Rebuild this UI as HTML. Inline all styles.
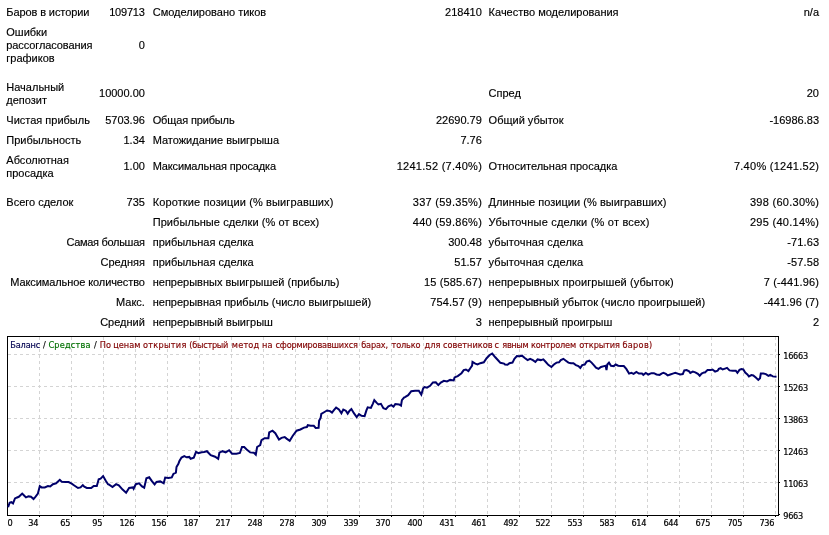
<!DOCTYPE html>
<html><head><meta charset="utf-8"><title>Strategy Tester Report</title>
<style>
html,body{margin:0;padding:0;background:#fff;}
body{width:829px;height:535px;position:relative;overflow:hidden;font-family:"Liberation Sans",Tahoma,Arial,sans-serif;font-size:11px;color:#000;}
.t{position:absolute;white-space:nowrap;line-height:13px;height:13px;-webkit-text-stroke:0.15px #000;}
.r{text-align:right;}
svg{position:absolute;left:0;top:0;}
svg text{font-family:"DejaVu Sans Condensed","Liberation Sans",Tahoma,Arial,sans-serif;font-size:9.1px;fill:#000;letter-spacing:-0.3px;stroke:#000;stroke-width:0.2px;}
svg .ttl text{letter-spacing:0;}
</style></head><body>
<div class="t" style="left:6.3px;top:6px;letter-spacing:-0.1px">Баров в истории</div>
<div class="t r" style="right:684.3px;top:6px;letter-spacing:-0.2px">109713</div>
<div class="t" style="left:152.7px;top:6px">Смоделировано тиков</div>
<div class="t r" style="right:347.2px;top:6px">218410</div>
<div class="t" style="left:488.6px;top:6px">Качество моделирования</div>
<div class="t r" style="right:10px;top:6px">n/a</div>
<div class="t" style="left:6.3px;top:26px">Ошибки</div>
<div class="t" style="left:6.3px;top:39px;letter-spacing:-0.1px">рассогласования</div>
<div class="t r" style="right:684.1px;top:39px">0</div>
<div class="t" style="left:6.3px;top:52px">графиков</div>
<div class="t" style="left:6.3px;top:81px">Начальный</div>
<div class="t" style="left:6.3px;top:94px">депозит</div>
<div class="t r" style="right:684.1px;top:87px">10000.00</div>
<div class="t" style="left:488.6px;top:87px">Спред</div>
<div class="t r" style="right:10px;top:87px">20</div>
<div class="t" style="left:6.3px;top:114px">Чистая прибыль</div>
<div class="t r" style="right:684.1px;top:114px">5703.96</div>
<div class="t" style="left:152.7px;top:114px;letter-spacing:-0.14px">Общая прибыль</div>
<div class="t r" style="right:347.2px;top:114px">22690.79</div>
<div class="t" style="left:488.6px;top:114px">Общий убыток</div>
<div class="t r" style="right:10px;top:114px">-16986.83</div>
<div class="t" style="left:6.3px;top:134px">Прибыльность</div>
<div class="t r" style="right:684.1px;top:134px">1.34</div>
<div class="t" style="left:152.7px;top:134px">Матожидание выигрыша</div>
<div class="t r" style="right:347.2px;top:134px">7.76</div>
<div class="t" style="left:6.3px;top:154px">Абсолютная</div>
<div class="t" style="left:6.3px;top:167px">просадка</div>
<div class="t r" style="right:684.1px;top:160px">1.00</div>
<div class="t" style="left:152.7px;top:160px;letter-spacing:-0.15px">Максимальная просадка</div>
<div class="t r" style="right:346.93px;top:160px;letter-spacing:0.27px">1241.52 (7.40%)</div>
<div class="t" style="left:488.6px;top:160px">Относительная просадка</div>
<div class="t r" style="right:9.73px;top:160px;letter-spacing:0.27px">7.40% (1241.52)</div>
<div class="t" style="left:6.3px;top:196px">Всего сделок</div>
<div class="t r" style="right:684.1px;top:196px">735</div>
<div class="t" style="left:152.7px;top:196px;letter-spacing:0.12px">Короткие позиции (% выигравших)</div>
<div class="t r" style="right:346.93px;top:196px;letter-spacing:0.27px">337 (59.35%)</div>
<div class="t" style="left:488.6px;top:196px;letter-spacing:0.04px">Длинные позиции (% выигравших)</div>
<div class="t r" style="right:9.73px;top:196px;letter-spacing:0.27px">398 (60.30%)</div>
<div class="t" style="left:152.7px;top:216px;letter-spacing:0.07px">Прибыльные сделки (% от всех)</div>
<div class="t r" style="right:346.93px;top:216px;letter-spacing:0.27px">440 (59.86%)</div>
<div class="t" style="left:488.6px;top:216px;letter-spacing:0.2px">Убыточные сделки (% от всех)</div>
<div class="t r" style="right:9.73px;top:216px;letter-spacing:0.27px">295 (40.14%)</div>
<div class="t r" style="right:684.4px;top:236px;letter-spacing:-0.3px">Самая большая</div>
<div class="t" style="left:152.7px;top:236px">прибыльная сделка</div>
<div class="t r" style="right:347.2px;top:236px">300.48</div>
<div class="t" style="left:488.6px;top:236px;letter-spacing:0.12px">убыточная сделка</div>
<div class="t r" style="right:9.9px;top:236px;letter-spacing:0.1px">-71.63</div>
<div class="t r" style="right:684.1px;top:256px">Средняя</div>
<div class="t" style="left:152.7px;top:256px">прибыльная сделка</div>
<div class="t r" style="right:347.2px;top:256px">51.57</div>
<div class="t" style="left:488.6px;top:256px;letter-spacing:0.12px">убыточная сделка</div>
<div class="t r" style="right:9.9px;top:256px;letter-spacing:0.1px">-57.58</div>
<div class="t r" style="right:684.2px;top:276px;letter-spacing:-0.1px">Максимальное количество</div>
<div class="t" style="left:152.7px;top:276px">непрерывных выигрышей (прибыль)</div>
<div class="t r" style="right:347.05px;top:276px;letter-spacing:0.15px">15 (585.67)</div>
<div class="t" style="left:488.6px;top:276px;letter-spacing:0.09px">непрерывных проигрышей (убыток)</div>
<div class="t r" style="right:9.85px;top:276px;letter-spacing:0.15px">7 (-441.96)</div>
<div class="t r" style="right:684.1px;top:296px">Макс.</div>
<div class="t" style="left:152.7px;top:296px">непрерывная прибыль (число выигрышей)</div>
<div class="t r" style="right:347.05px;top:296px;letter-spacing:0.15px">754.57 (9)</div>
<div class="t" style="left:488.6px;top:296px;letter-spacing:0.015px">непрерывный убыток (число проигрышей)</div>
<div class="t r" style="right:9.85px;top:296px;letter-spacing:0.15px">-441.96 (7)</div>
<div class="t r" style="right:684.1px;top:316px">Средний</div>
<div class="t" style="left:152.7px;top:316px">непрерывный выигрыш</div>
<div class="t r" style="right:347.2px;top:316px">3</div>
<div class="t" style="left:488.6px;top:316px;letter-spacing:-0.05px">непрерывный проигрыш</div>
<div class="t r" style="right:10px;top:316px">2</div>
<svg width="829" height="535" viewBox="0 0 829 535">
<g stroke="#d4d4d4" stroke-width="1" stroke-dasharray="3,3" shape-rendering="crispEdges" fill="none"><line x1="39.5" y1="337" x2="39.5" y2="515"/><line x1="71.5" y1="337" x2="71.5" y2="515"/><line x1="103.5" y1="337" x2="103.5" y2="515"/><line x1="135.5" y1="337" x2="135.5" y2="515"/><line x1="167.5" y1="337" x2="167.5" y2="515"/><line x1="199.5" y1="337" x2="199.5" y2="515"/><line x1="231.5" y1="337" x2="231.5" y2="515"/><line x1="263.5" y1="337" x2="263.5" y2="515"/><line x1="295.5" y1="337" x2="295.5" y2="515"/><line x1="327.5" y1="337" x2="327.5" y2="515"/><line x1="359.5" y1="337" x2="359.5" y2="515"/><line x1="391.5" y1="337" x2="391.5" y2="515"/><line x1="423.5" y1="337" x2="423.5" y2="515"/><line x1="455.5" y1="337" x2="455.5" y2="515"/><line x1="487.5" y1="337" x2="487.5" y2="515"/><line x1="519.5" y1="337" x2="519.5" y2="515"/><line x1="551.5" y1="337" x2="551.5" y2="515"/><line x1="583.5" y1="337" x2="583.5" y2="515"/><line x1="615.5" y1="337" x2="615.5" y2="515"/><line x1="647.5" y1="337" x2="647.5" y2="515"/><line x1="679.5" y1="337" x2="679.5" y2="515"/><line x1="711.5" y1="337" x2="711.5" y2="515"/><line x1="743.5" y1="337" x2="743.5" y2="515"/><line x1="775.5" y1="337" x2="775.5" y2="515"/><line x1="8" y1="354.5" x2="778" y2="354.5"/><line x1="8" y1="386.5" x2="778" y2="386.5"/><line x1="8" y1="418.5" x2="778" y2="418.5"/><line x1="8" y1="450.5" x2="778" y2="450.5"/><line x1="8" y1="482.5" x2="778" y2="482.5"/></g>
<g stroke="#000" stroke-width="1" shape-rendering="crispEdges" fill="none">
<rect x="7.5" y="336.5" width="771" height="179"/>
<line x1="779" y1="354.5" x2="780" y2="354.5"/><line x1="779" y1="386.5" x2="780" y2="386.5"/><line x1="779" y1="418.5" x2="780" y2="418.5"/><line x1="779" y1="450.5" x2="780" y2="450.5"/><line x1="779" y1="482.5" x2="780" y2="482.5"/><line x1="779" y1="514.5" x2="780" y2="514.5"/><line x1="39.5" y1="516" x2="39.5" y2="517"/><line x1="71.5" y1="516" x2="71.5" y2="517"/><line x1="103.5" y1="516" x2="103.5" y2="517"/><line x1="135.5" y1="516" x2="135.5" y2="517"/><line x1="167.5" y1="516" x2="167.5" y2="517"/><line x1="199.5" y1="516" x2="199.5" y2="517"/><line x1="231.5" y1="516" x2="231.5" y2="517"/><line x1="263.5" y1="516" x2="263.5" y2="517"/><line x1="295.5" y1="516" x2="295.5" y2="517"/><line x1="327.5" y1="516" x2="327.5" y2="517"/><line x1="359.5" y1="516" x2="359.5" y2="517"/><line x1="391.5" y1="516" x2="391.5" y2="517"/><line x1="423.5" y1="516" x2="423.5" y2="517"/><line x1="455.5" y1="516" x2="455.5" y2="517"/><line x1="487.5" y1="516" x2="487.5" y2="517"/><line x1="519.5" y1="516" x2="519.5" y2="517"/><line x1="551.5" y1="516" x2="551.5" y2="517"/><line x1="583.5" y1="516" x2="583.5" y2="517"/><line x1="615.5" y1="516" x2="615.5" y2="517"/><line x1="647.5" y1="516" x2="647.5" y2="517"/><line x1="679.5" y1="516" x2="679.5" y2="517"/><line x1="711.5" y1="516" x2="711.5" y2="517"/><line x1="743.5" y1="516" x2="743.5" y2="517"/><line x1="775.5" y1="516" x2="775.5" y2="517"/>
</g>
<polyline fill="none" stroke="#00006a" stroke-width="2" stroke-linejoin="miter" points="8.1,507.2 9.6,502.8 11.3,502.2 13.0,503.4 15.0,498.4 16.5,497.7 18.8,496.8 22.2,493.6 24.1,495.5 26.0,497.4 28.5,496.4 31.0,496.8 33.5,499.0 35.4,496.8 37.9,493.6 39.8,486.1 41.6,487.4 44.8,487.4 47.9,486.1 50.2,486.5 52.9,484.2 56.1,483.3 59.8,479.8 61.7,481.7 65.5,482.0 68.6,482.1 71.7,483.6 74.3,485.5 78.0,488.0 80.5,487.4 82.8,485.1 84.3,486.7 86.8,488.0 91.2,488.0 93.7,485.9 96.8,485.9 98.7,479.2 100.6,478.6 103.1,476.1 105.6,480.5 108.0,484.2 108.8,484.5 112.5,487.0 116.1,484.2 118.8,485.4 122.6,489.6 126.1,492.7 129.1,488.0 132.9,487.4 133.6,488.7 135.8,484.2 139.1,483.3 142.0,486.4 144.2,487.7 146.4,478.3 149.2,477.3 152.1,481.4 154.6,484.5 156.5,482.0 160.2,481.4 163.7,483.3 165.2,477.6 168.4,477.9 171.8,477.4 173.4,473.9 175.9,472.6 176.5,467.0 178.4,463.8 179.3,461.3 181.5,457.6 184.3,456.1 186.6,457.3 189.3,456.9 190.6,458.8 193.8,457.6 196.0,451.9 198.5,453.2 201.6,452.3 204.0,451.9 206.9,451.2 210.7,455.2 215.1,456.7 218.2,458.9 219.4,452.7 222.6,451.2 225.7,452.4 229.1,450.2 232.0,453.7 236.4,453.7 239.9,453.0 242.0,447.0 244.2,447.0 246.7,449.5 250.2,452.4 253.9,452.7 255.8,454.6 257.1,447.0 260.2,445.1 261.5,440.1 264.6,438.2 268.4,438.2 269.2,432.3 272.5,430.7 275.3,433.2 279.0,439.5 281.5,437.9 284.7,437.0 286.6,438.6 289.7,440.8 292.8,435.7 296.6,430.7 300.4,429.5 304.0,427.6 306.9,427.0 307.8,425.2 310.7,425.8 313.8,425.8 315.7,427.9 318.6,427.7 319.1,420.8 320.7,417.6 321.3,413.9 324.5,412.0 327.0,410.5 330.1,411.1 332.0,412.6 333.9,410.1 336.1,407.6 338.9,409.5 341.4,413.2 343.3,409.5 345.8,410.7 347.7,413.6 349.6,410.7 351.4,409.1 353.9,413.2 356.7,417.0 359.0,414.1 361.5,415.8 364.6,416.1 366.5,410.1 367.7,407.3 370.9,407.9 372.8,403.8 374.3,400.1 376.5,402.6 378.4,404.5 380.9,403.8 383.4,408.2 385.9,409.1 388.4,406.3 391.3,405.1 393.5,406.6 395.3,404.1 399.1,404.5 401.0,405.7 401.9,400.1 404.0,397.6 405.0,397.1 408.2,395.2 411.3,391.2 415.1,390.8 418.8,390.8 421.3,394.6 423.2,388.3 424.5,387.0 427.0,387.7 430.1,385.8 432.9,382.4 435.8,382.3 438.3,385.1 440.8,382.6 443.9,380.8 447.0,381.4 450.2,379.9 453.7,380.4 454.6,377.4 457.7,376.1 461.5,373.2 463.7,370.1 465.9,369.5 468.4,371.1 470.3,368.2 472.1,365.7 472.5,361.9 475.3,363.6 477.5,364.4 480.3,363.2 483.8,362.3 486.6,358.2 489.7,355.0 492.2,353.5 495.3,357.3 498.5,360.7 500.4,362.8 504.0,363.6 505.0,364.5 507.5,364.8 509.4,363.2 512.5,362.6 514.4,358.8 516.9,356.1 519.4,356.3 522.0,355.7 525.1,358.2 527.6,360.1 530.1,358.8 532.9,360.1 535.4,362.0 537.6,359.4 540.8,360.1 543.3,359.4 545.8,362.0 548.3,364.8 551.4,367.0 553.9,364.5 556.5,362.6 559.0,362.3 560.8,360.1 563.4,358.8 565.9,360.7 568.4,362.6 570.9,363.2 573.4,363.2 575.9,365.1 578.4,366.1 580.3,367.9 582.2,365.1 584.7,364.5 586.6,361.6 589.3,360.7 591.6,362.6 593.8,365.1 596.0,367.6 598.5,368.9 601.0,367.0 604.0,366.1 605.6,365.7 606.5,370.1 607.3,364.5 609.0,362.6 611.0,365.7 613.8,366.1 615.7,364.5 618.2,365.7 620.7,366.1 623.8,366.1 626.3,368.9 629.1,373.6 631.4,372.9 633.6,373.9 636.4,372.0 638.9,373.6 642.0,373.6 643.3,374.9 645.8,372.9 648.3,374.5 651.4,373.2 653.9,373.2 656.5,374.5 659.6,374.9 661.5,373.6 663.4,372.9 665.9,373.9 667.7,375.4 670.3,374.5 672.8,373.6 675.3,372.9 678.4,373.9 680.3,374.5 682.8,374.1 684.3,370.4 686.6,370.1 689.1,371.4 690.3,372.9 692.8,371.6 695.3,372.4 697.9,373.9 699.7,375.8 701.6,373.6 704.0,372.4 705.0,372.4 707.5,370.1 710.7,370.1 712.5,369.5 715.1,371.6 717.6,370.7 718.8,368.9 720.7,368.2 722.6,369.5 725.1,368.6 727.0,367.9 729.5,370.4 732.6,370.7 735.8,370.7 737.4,372.9 739.5,369.9 741.4,369.1 743.3,369.5 745.2,372.6 747.4,374.5 748.9,376.4 751.4,375.1 753.3,375.4 755.8,377.6 758.3,379.9 760.0,378.3 760.8,373.6 763.4,373.6 765.9,374.1 768.4,375.8 770.3,374.9 772.8,376.4 776.5,376.8"/>
<text x="7.6" y="526">0</text><text x="38.1" y="526" text-anchor="end">34</text><text x="70.1" y="526" text-anchor="end">65</text><text x="102.1" y="526" text-anchor="end">95</text><text x="134.1" y="526" text-anchor="end">126</text><text x="166.1" y="526" text-anchor="end">156</text><text x="198.1" y="526" text-anchor="end">187</text><text x="230.1" y="526" text-anchor="end">217</text><text x="262.1" y="526" text-anchor="end">248</text><text x="294.1" y="526" text-anchor="end">278</text><text x="326.1" y="526" text-anchor="end">309</text><text x="358.1" y="526" text-anchor="end">339</text><text x="390.1" y="526" text-anchor="end">370</text><text x="422.1" y="526" text-anchor="end">400</text><text x="454.1" y="526" text-anchor="end">431</text><text x="486.1" y="526" text-anchor="end">461</text><text x="518.1" y="526" text-anchor="end">492</text><text x="550.1" y="526" text-anchor="end">522</text><text x="582.1" y="526" text-anchor="end">553</text><text x="614.1" y="526" text-anchor="end">583</text><text x="646.1" y="526" text-anchor="end">614</text><text x="678.1" y="526" text-anchor="end">644</text><text x="710.1" y="526" text-anchor="end">675</text><text x="742.1" y="526" text-anchor="end">705</text><text x="774.1" y="526" text-anchor="end">736</text><text x="783.3" y="359">16663</text><text x="783.3" y="391">15263</text><text x="783.3" y="423">13863</text><text x="783.3" y="455">12463</text><text x="783.3" y="487">11063</text><text x="783.3" y="519">9663</text>
<g class="ttl">
<text x="10.3" y="348" style="fill:#000050;stroke:#000050;stroke-width:0.15px;letter-spacing:-0.15px">Баланс</text>
<text x="43" y="348" style="fill:#000;stroke:#000;stroke-width:0.15px">/</text>
<text x="48.4" y="348" style="fill:#007000;stroke:#007000;stroke-width:0.15px;letter-spacing:0.2px">Средства</text>
<text x="94.1" y="348" style="fill:#000;stroke:#000;stroke-width:0.15px">/</text>
<text x="99.4" y="348" style="fill:#800000;stroke:#800000;stroke-width:0.15px"><tspan x="99.8">По </tspan><tspan x="113.2">ценам </tspan><tspan x="142.9" style="letter-spacing:0.3px">открытия </tspan><tspan x="189.2" style="letter-spacing:-0.25px">(быстрый </tspan><tspan x="231.8" style="letter-spacing:0.2px">метод </tspan><tspan x="261.9" style="letter-spacing:0.3px">на </tspan><tspan x="275.5" style="letter-spacing:-0.18px">сформировавшихся </tspan><tspan x="361.2" style="letter-spacing:-0.15px">барах, </tspan><tspan x="391.6" style="letter-spacing:-0.17px">только </tspan><tspan x="424.6">для </tspan><tspan x="443.0">советников </tspan><tspan x="494.5">с </tspan><tspan x="502.3" style="letter-spacing:-0.34px">явным </tspan><tspan x="530.9" style="letter-spacing:-0.19px">контролем </tspan><tspan x="579.2" style="letter-spacing:-0.09px">открытия </tspan><tspan x="622.5" style="letter-spacing:0.28px">баров)</tspan></text>
</g>
</svg>
</body></html>
